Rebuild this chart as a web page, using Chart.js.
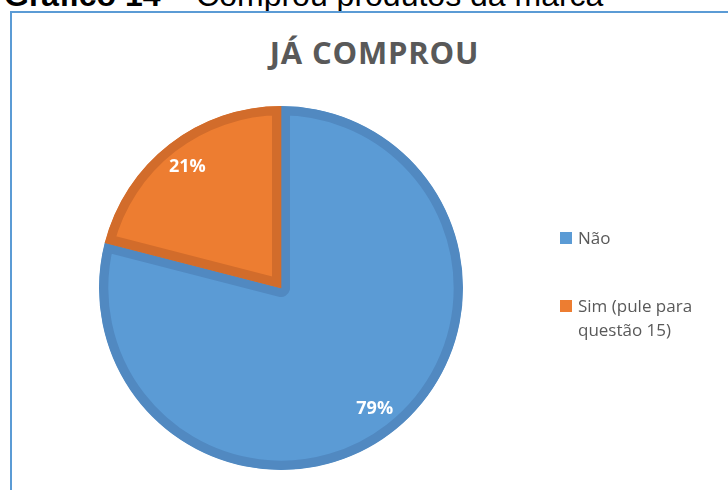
<!DOCTYPE html>
<html>
<head>
<meta charset="utf-8">
<script src="https://cdn.jsdelivr.net/npm/chart.js@4"></script>
<style>
  html, body { margin: 0; padding: 0; background: #fff; overflow: hidden; }
  body { width: 728px; height: 490px; position: relative; }
  #caption {
    position: absolute; left: 4px; top: -21px; white-space: nowrap;
    font-family: "Liberation Sans", Arial, sans-serif; font-size: 32px; line-height: 32px; color: #000;
  }
  #box {
    position: absolute; left: 10px; top: 11px; width: 740px; height: 500px;
    border: 2px solid #5b9bd5; box-sizing: border-box;
  }
  #title {
    position: absolute; left: 268px; width: 213px; top: 37px; text-align: center;
    font-family: "Open Sans", sans-serif; font-weight: bold; font-size: 31px; line-height: 30px;
    letter-spacing: 0.8px; color: #595959; white-space: nowrap;
  }
  #chart { position: absolute; left: 0; top: 0; }
  .leg { position: absolute; left: 560px; font-family: "Open Sans", sans-serif; font-size: 17px;
         line-height: 24px; color: #595959; }
  .leg span.sw { position: absolute; left: 0; top: 6px; width: 12px; height: 12px; }
  .leg div { margin-left: 18px; }
</style>
</head>
<body>
<div id="caption"><b>Gráfico 14</b> – Comprou produtos da marca</div>
<div id="box"></div>
<div id="title">JÁ COMPROU</div>
<canvas id="chart" width="728" height="490"></canvas>
<div id="legend"></div>
<script>
const labels = ['Não', 'Sim (pule para questão 15)'];
const legendLines = [['Não'], ['Sim (pule para', 'questão 15)']];
const values = [79, 21];
const fillColors = ['#5b9bd5', '#ed7d31'];
const edgeColors = ['#5189c1', '#d26c2b'];
const legendTops = [226, 294];

// rótulos de porcentagem dentro das fatias
const sliceLabels = {
  id: 'sliceLabels',
  afterDatasetsDraw(chart) {
    const ctx = chart.ctx;
    const total = values.reduce((a, b) => a + b, 0);
    chart.getDatasetMeta(0).data.forEach((arc, i) => {
      const p = arc.getProps(['x', 'y', 'startAngle', 'endAngle', 'outerRadius'], true);
      const mid = (p.startAngle + p.endAngle) / 2;
      const r = p.outerRadius * 0.84;
      ctx.save();
      ctx.fillStyle = '#fff';
      ctx.font = 'bold 18px "Open Sans", sans-serif';
      ctx.textAlign = 'center';
      ctx.textBaseline = 'middle';
      ctx.fillText(Math.round(values[i] / total * 100) + '%', p.x + Math.cos(mid) * r, p.y + Math.sin(mid) * r);
      ctx.restore();
    });
  }
};

const ctx = document.getElementById('chart').getContext('2d');
new Chart(ctx, {
  type: 'pie',
  data: {
    labels: labels,
    datasets: [{
      data: values,
      backgroundColor: fillColors,
      borderColor: edgeColors,
      borderWidth: 9,
      borderAlign: 'inner'
    }]
  },
  options: {
    responsive: false,
    animation: false,
    layout: { padding: { left: 99, right: 265, top: 106, bottom: 20 } },
    plugins: {
      legend: { display: false },
      tooltip: { enabled: false }
    }
  },
  plugins: [sliceLabels]
});

// legenda em HTML (rótulo com quebra de linha)
const legend = document.getElementById('legend');
labels.forEach((lab, i) => {
  const item = document.createElement('div');
  item.className = 'leg';
  item.style.top = legendTops[i] + 'px';
  item.innerHTML = '<span class="sw" style="background:' + fillColors[i] + '"></span><div>' +
    legendLines[i].join('<br>') + '</div>';
  legend.appendChild(item);
});
</script>
</body>
</html>
